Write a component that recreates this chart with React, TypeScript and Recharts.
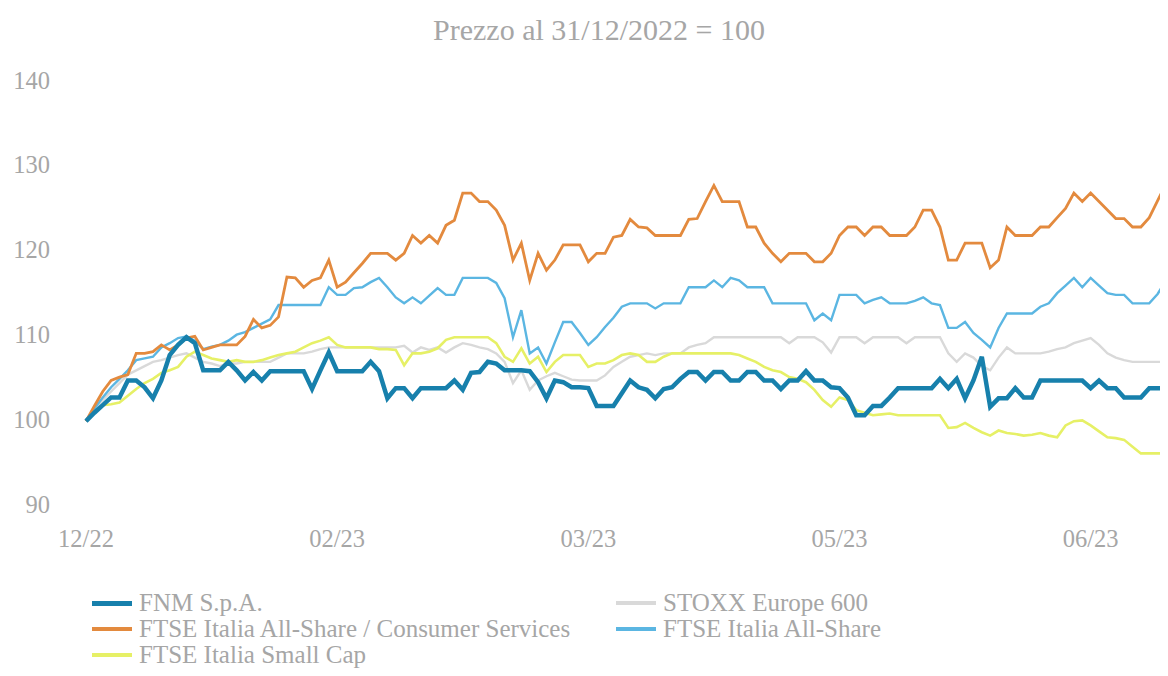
import React from "react";
import { LineChart, Line, XAxis, YAxis, Legend } from "recharts";

const FNM = [
  100, 101, 101.9, 102.8, 102.8, 104.8, 104.8, 104, 102.7, 104.8,
  107.8, 109, 109.9, 109.2, 106, 106, 106, 107, 106, 104.8,
  105.8, 104.8, 105.9, 105.9, 105.9, 105.9, 105.9, 103.8, 106, 108.1,
  105.9, 105.9, 105.9, 105.9, 107, 105.9, 102.7, 103.9, 103.9, 102.7,
  103.9, 103.9, 103.9, 103.9, 104.8, 103.7, 105.7, 105.8, 107, 106.8,
  106, 106, 106, 105.9, 104.6, 102.7, 104.8, 104.6, 104, 104,
  103.9, 101.8, 101.8, 101.8, 103.3, 104.8, 104, 103.7, 102.7, 103.8,
  104, 105, 105.8, 105.8, 104.8, 105.8, 105.8, 104.8, 104.8, 105.8,
  105.8, 104.8, 104.8, 103.8, 104.8, 104.8, 105.9, 104.8, 104.8, 104,
  103.9, 102.8, 100.7, 100.7, 101.8, 101.8, 102.8, 103.9, 103.9, 103.9,
  103.9, 103.9, 105, 103.9, 105, 102.7, 104.8, 107.6, 101.7, 102.7,
  102.7, 103.9, 102.8, 102.8, 104.8, 104.8, 104.8, 104.8, 104.8, 104.8,
  103.9, 104.8, 103.9, 103.9, 102.8, 102.8, 102.8, 103.9, 103.9, 103.9,
];

const CONSUMER = [
  100, 101.8, 103.5, 104.8, 105.2, 105.5, 108, 108, 108.2, 109,
  108.4, 109, 109.8, 110, 108.4, 108.7, 109, 109, 109, 110,
  112, 111, 111.3, 112.3, 117, 116.9, 115.8, 116.6, 116.9, 119,
  115.8, 116.4, 117.5, 118.6, 119.8, 119.8, 119.8, 119, 119.8, 121.9,
  121, 121.9, 121, 123.1, 123.7, 126.9, 126.9, 125.9, 125.9, 124.9,
  123.1, 119, 121, 116.6, 119.8, 117.8, 119, 120.8, 120.8, 120.8,
  118.8, 119.8, 119.8, 121.7, 121.9, 123.8, 122.9, 122.8, 121.9, 121.9,
  121.9, 121.9, 123.8, 123.9, 125.9, 127.8, 125.9, 125.9, 125.9, 122.9,
  122.9, 121, 119.8, 118.8, 119.8, 119.8, 119.8, 118.8, 118.8, 119.8,
  121.9, 122.9, 122.9, 121.9, 122.9, 122.9, 121.9, 121.9, 121.9, 122.9,
  124.9, 124.9, 122.9, 119, 119, 121, 121, 121, 118.1, 119,
  122.9, 121.9, 121.9, 121.9, 122.9, 122.9, 124, 125.1, 126.9, 125.9,
  126.9, 125.9, 124.9, 123.9, 123.9, 122.9, 122.9, 124, 126, 128,
];

const ALL_SHARE = [
  100, 101.5, 102.8, 104, 105, 106, 107.2, 107.4, 107.6, 108.7,
  109.2, 109.8, 110, 109.5, 108.5, 108.8, 109, 109.5, 110.2, 110.5,
  111, 111.5, 112, 113.7, 113.7, 113.7, 113.7, 113.7, 113.7, 115.8,
  114.9, 114.9, 115.7, 115.8, 116.4, 116.9, 115.8, 114.6, 113.9, 114.6,
  113.9, 114.8, 115.7, 114.9, 114.9, 116.9, 116.9, 116.9, 116.9, 116.3,
  114.5, 109.9, 113.1, 108, 108.7, 106.8, 109.3, 111.7, 111.7, 110.4,
  109, 109.9, 111.1, 112.2, 113.5, 113.9, 113.9, 113.9, 113.3, 113.9,
  113.9, 113.9, 115.8, 115.8, 115.8, 116.6, 115.8, 116.9, 116.6, 115.8,
  115.8, 115.8, 113.9, 113.9, 113.9, 113.9, 113.9, 111.9, 112.7, 111.9,
  114.9, 114.9, 114.9, 113.9, 114.3, 114.6, 113.9, 113.9, 113.9, 114.2,
  114.6, 113.9, 113.7, 111, 111, 111.7, 110.4, 109.6, 108.7, 111,
  112.7, 112.7, 112.7, 112.7, 113.5, 113.9, 115.1, 116, 116.9, 115.8,
  116.9, 116, 115.1, 114.9, 114.9, 113.9, 113.9, 113.9, 115, 116.6,
];

const STOXX = [
  100, 101.5, 102.5, 103.5, 104.5, 105.5, 106, 106.5, 107, 107.2,
  107.5, 107.8, 108, 107.5, 107, 106.8, 106.5, 106.8, 106.8, 107,
  107, 107, 107, 107.5, 108, 108, 108, 108.2, 108.5, 108.7,
  108.7, 108.7, 108.7, 108.7, 108.7, 108.7, 108.7, 108.7, 108.9, 108.1,
  108.7, 108.4, 108.7, 108.1, 108.7, 109.2, 109, 108.7, 108.5, 108,
  107, 104.5, 106, 103.7, 104.8, 105.3, 105.7, 105.3, 104.9, 104.8,
  104.8, 104.8, 105.4, 106.4, 107, 107.6, 107.8, 108, 107.8, 108,
  108, 108, 108.7, 109, 109.2, 109.9, 109.9, 109.9, 109.9, 109.9,
  109.9, 109.9, 109.9, 109.9, 109.2, 109.9, 109.9, 109.9, 109.3, 108.1,
  109.9, 109.9, 109.9, 109.2, 109.9, 109.9, 109.9, 109.9, 109.2, 109.9,
  109.9, 109.9, 109.9, 108, 107, 108, 107.5, 106.5, 106, 107.5,
  108.7, 108, 108, 108, 108, 108.2, 108.5, 108.7, 109.2, 109.5,
  109.8, 109, 108, 107.5, 107.2, 107, 107, 107, 107, 107,
];

const SMALL_CAP = [
  100, 101, 101.9, 102, 102.2, 103, 103.8, 104.5, 105, 105.7,
  106, 106.4, 107.6, 108.2, 107.8, 107.4, 107.2, 107, 107.2, 107,
  107, 107.2, 107.5, 107.8, 108, 108.2, 108.7, 109.2, 109.5, 109.9,
  109, 108.7, 108.7, 108.7, 108.7, 108.5, 108.5, 108.4, 106.6, 108,
  108, 108.2, 108.6, 109.6, 109.9, 109.9, 109.9, 109.9, 109.9, 109.2,
  107.6, 107, 108.6, 106.8, 107.6, 105.8, 107, 107.8, 107.8, 107.8,
  106.4, 106.8, 106.8, 107.2, 107.8, 108, 107.8, 107, 107, 107.6,
  108, 108, 108, 108, 108, 108, 108, 108, 107.8, 107.4,
  107, 106.4, 106, 105.8, 105.2, 105, 104.6, 103.7, 102.5, 101.7,
  102.8, 102.5, 101.3, 101, 100.7, 100.8, 100.9, 100.7, 100.7, 100.7,
  100.7, 100.7, 100.7, 99.2, 99.3, 99.8, 99.2, 98.7, 98.3, 98.9,
  98.6, 98.5, 98.3, 98.4, 98.6, 98.3, 98.1, 99.5, 100, 100.1,
  99.5, 98.8, 98.1, 98, 97.8, 97, 96.2, 96.2, 96.2, 96.2,
];

const X_TICK_INDEX = [0, 30, 60, 90, 120];
const X_TICK_LABELS = ["12/22", "02/23", "03/23", "05/23", "06/23"];
const Y_TICKS = [90, 100, 110, 120, 130, 140];

const TITLE = "Prezzo al 31/12/2022 = 100";

const SERIES = [
  { key: "stoxx", name: "STOXX Europe 600", color: "#D9D9D9", width: 2.4 },
  { key: "small", name: "FTSE Italia Small Cap", color: "#E6F066", width: 2.6 },
  { key: "allsh", name: "FTSE Italia All-Share", color: "#5BB6E2", width: 2.4 },
  { key: "cons", name: "FTSE Italia All-Share / Consumer Services", color: "#E38A3E", width: 2.8 },
  { key: "fnm", name: "FNM S.p.A.", color: "#1780AC", width: 4.5 },
];

// legend layout: [row, col]
const LEGEND_ORDER = [
  { key: "fnm", row: 0, col: 0 },
  { key: "stoxx", row: 0, col: 1 },
  { key: "cons", row: 1, col: 0 },
  { key: "allsh", row: 1, col: 1 },
  { key: "small", row: 2, col: 0 },
];

const data = FNM.map((v, i) => ({
  i,
  fnm: v,
  cons: CONSUMER[i],
  allsh: ALL_SHARE[i],
  stoxx: STOXX[i],
  small: SMALL_CAP[i],
}));

const FONT = "'Liberation Serif', 'Times New Roman', serif";
const TEXT_COLOR = "#A6A6A6";

const LEGEND_TOP = 578;

const LegendContent = () => {
  const rowCenters = [595, 621, 647];
  const colSwatch = [84, 608];
  return (
    <div style={{ position: "relative", width: 1160, height: 82 }}>
      {LEGEND_ORDER.map((it) => {
        const s = SERIES.find((x) => x.key === it.key)!;
        const cy = rowCenters[it.row] - LEGEND_TOP;
        return (
          <div key={it.key}>
            <div
              style={{
                position: "absolute",
                left: colSwatch[it.col],
                top: cy - (it.key === "fnm" ? 2.5 : 2),
                width: 40,
                height: it.key === "fnm" ? 5 : 4,
                background: s.color,
              }}
            />
            <div
              style={{
                position: "absolute",
                left: colSwatch[it.col] + 47,
                top: cy - 12,
                height: 24,
                lineHeight: "24px",
                fontFamily: FONT,
                fontSize: 25,
                color: TEXT_COLOR,
                whiteSpace: "nowrap",
              }}
            >
              {s.name}
            </div>
          </div>
        );
      })}
    </div>
  );
};

export default function App() {
  return (
    <div
      style={{
        position: "relative",
        width: 1160,
        height: 660,
        background: "#fff",
      }}
    >
      <div
        style={{
          position: "absolute",
          left: 0,
          width: 1160,
          paddingLeft: 22,
          boxSizing: "border-box",
          top: 4,
          textAlign: "center",
          fontFamily: FONT,
          fontSize: 30,
          lineHeight: "36px",
          color: TEXT_COLOR,
          zIndex: 2,
        }}
      >
        {TITLE}
      </div>
      <LineChart
        width={1160}
        height={660}
        data={data}
        margin={{ top: 74, right: 2, left: 0, bottom: 122 }}
      >
        <XAxis
          dataKey="i"
          type="number"
          domain={[0, 129]}
          ticks={X_TICK_INDEX}
          tickFormatter={(v: number) => X_TICK_LABELS[X_TICK_INDEX.indexOf(v)] ?? ""}
          axisLine={false}
          tickLine={false}
          tickSize={0}
          tickMargin={24}
          height={40}
          interval={0}
          tick={{ fill: TEXT_COLOR, fontSize: 24.5, fontFamily: FONT }}
        />
        <YAxis
          domain={[90, 140]}
          ticks={Y_TICKS}
          type="number"
          width={78}
          axisLine={false}
          tickLine={false}
          tickSize={0}
          tickMargin={36}
          interval={0}
          tick={{ fill: TEXT_COLOR, fontSize: 24.5, fontFamily: FONT, dy: -2 }}
        />
        <Legend
          layout="vertical"
          align="center"
          verticalAlign="middle"
          wrapperStyle={{
            position: "absolute",
            top: LEGEND_TOP,
            left: 0,
            width: 1160,
            height: 82,
            overflow: "visible",
          }}
          content={() => <LegendContent />}
        />
        {SERIES.map((s) => (
          <Line
            key={s.key}
            dataKey={s.key}
            name={s.name}
            type="linear"
            stroke={s.color}
            strokeWidth={s.width}
            dot={false}
            activeDot={false}
            isAnimationActive={false}
            strokeLinejoin="miter"
          />
        ))}
      </LineChart>
    </div>
  );
}
